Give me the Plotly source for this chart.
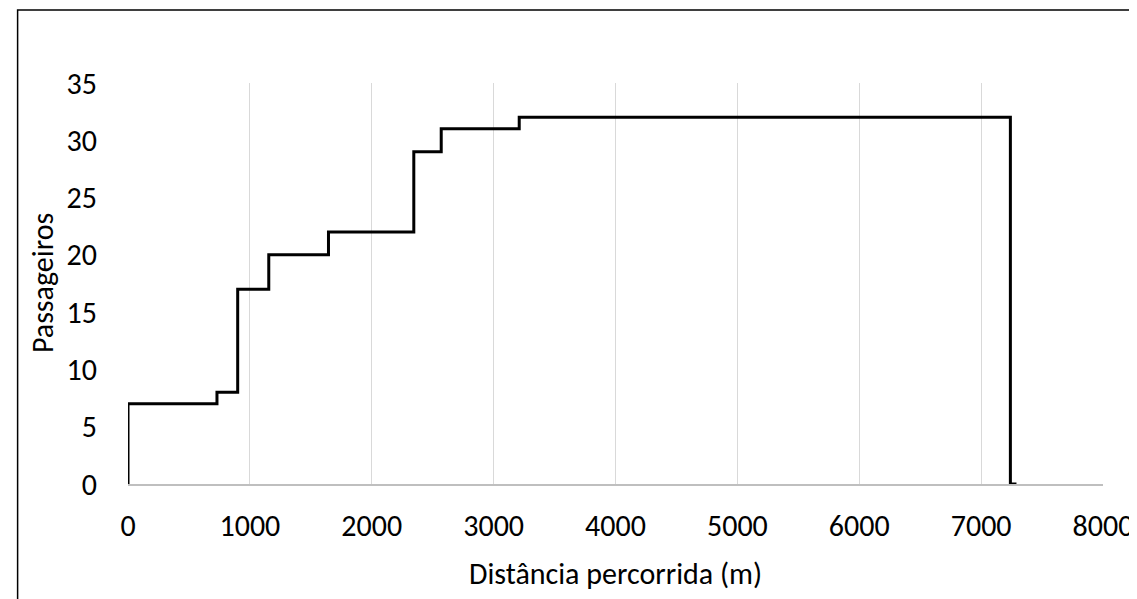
import plotly.graph_objects as go

# Step profile: distance (m) and passengers on board
distance = [0, 0, 730, 730, 900, 900, 1155, 1155, 1645, 1645, 2345, 2345, 2570, 2570, 3210, 3210, 7240, 7240, 7290]
passengers = [0, 7, 7, 8, 8, 17, 17, 20, 20, 22, 22, 29, 29, 31, 31, 32, 32, 0, 0]

x_ticks = [0, 1000, 2000, 3000, 4000, 5000, 6000, 7000, 8000]
y_ticks = [0, 5, 10, 15, 20, 25, 30, 35]

x_title = "Distância percorrida (m)"
y_title = "Passageiros"

FONT = "Carlito, Calibri, Lato, sans-serif"

fig = go.Figure()
fig.add_trace(go.Scatter(x=distance, y=passengers, mode="lines",
                         line=dict(color="black", width=3), showlegend=False))

# page has an 8px body margin; figure sized to fit the window
W, H = 1129, 591
L, T = 119.5, 75
R = W - 1095.5
B = H - 476
pw, ph = W - L - R, H - T - B

fig.update_layout(
    width=W, height=H,
    margin=dict(l=L, r=R, t=T, b=B, autoexpand=False),
    paper_bgcolor="white", plot_bgcolor="white",
    font=dict(family=FONT, size=30, color="#000000"),
    xaxis=dict(range=[0, 8000], tickvals=x_ticks, ticktext=[str(v) for v in x_ticks],
               showgrid=True, gridcolor="#d9d9d9", gridwidth=1,
               showline=True, linecolor="#bfbfbf", linewidth=1.5,
               zeroline=False, ticks="", ticklabelstandoff=14),
    yaxis=dict(range=[0, 35], tickvals=y_ticks, showgrid=False, zeroline=False,
               showline=False, ticks="", ticklabelstandoff=30),
    annotations=[
        dict(text=x_title, xref="paper", yref="paper", x=0.5, y=(476 - 565) / ph,
             xanchor="center", yanchor="middle", showarrow=False,
             font=dict(size=30)),
        dict(text=y_title, xref="paper", yref="paper", x=(34 - L) / pw, y=0.5,
             xanchor="center", yanchor="middle", showarrow=False, textangle=-90,
             font=dict(size=30)),
    ],
    shapes=[dict(type="rect", xref="paper", yref="paper",
                 x0=(9 - L) / pw, x1=(W + 20 - L) / pw,
                 y0=-(H + 20 - T - ph) / ph, y1=(476 - 2) / ph,
                 line=dict(color="black", width=1.5), fillcolor="rgba(0,0,0,0)",
                 layer="below")],
)

fig.write_html("out.html")
